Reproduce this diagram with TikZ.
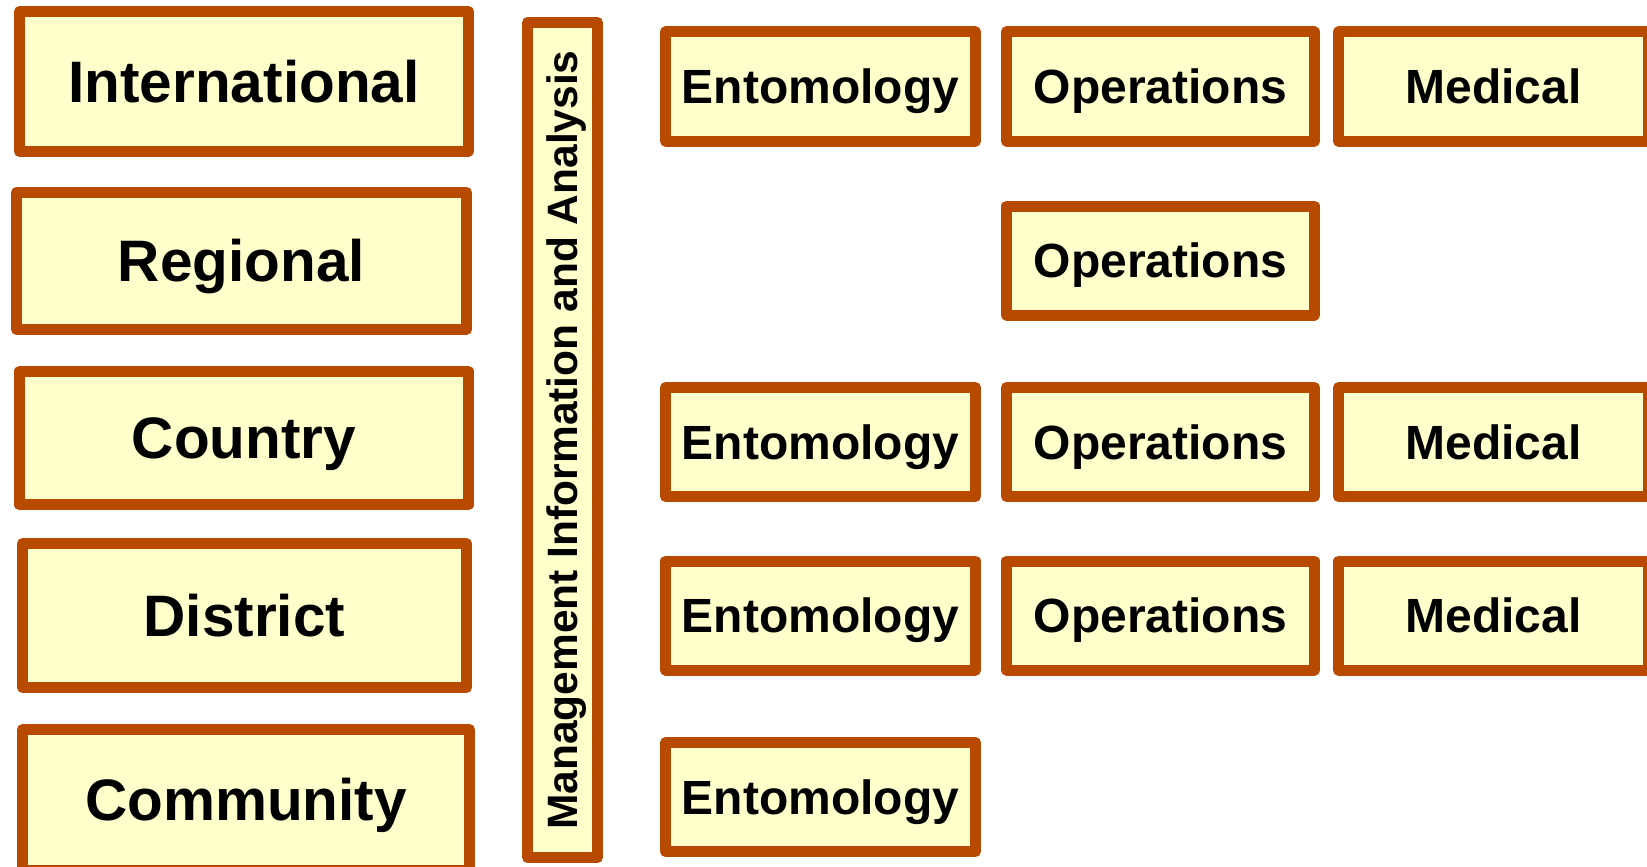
\documentclass[tikz,border=0pt]{standalone}
\usepackage{fontspec}
\setmainfont{Liberation Sans}
\definecolor{rust}{HTML}{B84A00}
\definecolor{cream}{HTML}{FFFFCC}
\begin{document}
\begin{tikzpicture}[x=1pt,y=-1pt,
  boxbase/.style={draw=rust, fill=cream, line width=11pt, line join=round, inner sep=0pt, outer sep=0pt, text=black},
  lvl/.style={boxbase, font=\fontsize{58.5}{60}\selectfont\bfseries, text height=41.9pt, text depth=0pt},
  unit/.style={boxbase, font=\fontsize{48}{50}\selectfont\bfseries, text height=34.4pt, text depth=0pt, minimum height=109pt},
  mia/.style={boxbase, font=\fontsize{42.5}{44}\selectfont\bfseries, text height=30.4pt, text depth=0pt, rotate=90}
]
\useasboundingbox (0,0) rectangle (1647,867);
\clip (0,0) rectangle (1647,867);
% level boxes
\node[lvl, minimum width=449pt, minimum height=140pt] (intl) at (244,81.5) {International};
\node[lvl, minimum width=450pt, minimum height=137pt] (reg) at (241.5,261) {Regional};
\node[lvl, minimum width=449pt, minimum height=133.5pt] (ctry) at (244,438) {Country};
\node[lvl, minimum width=444pt, minimum height=144pt] (dist) at (244.5,615.5) {District};
\node[lvl, minimum width=447pt, minimum height=141pt] (comm) at (246,800) {Community};
% vertical bar
\node[mia, minimum width=835pt, minimum height=70pt] (mia) at (562.5,440) {Management Information and Analysis};
% row 1
\node[unit, minimum width=310pt] (e1) at (820.5,86.5) {Entomology};
\node[unit, minimum width=308pt] (o1) at (1160.5,86.5) {Operations};
\node[unit, minimum width=310pt] (m1) at (1493.5,86.5) {Medical};
% row 2
\node[unit, minimum width=308pt] (o2) at (1160.5,260.5) {Operations};
% row 3
\node[unit, minimum width=310pt] (e3) at (820.5,442) {Entomology};
\node[unit, minimum width=308pt] (o3) at (1160.5,442) {Operations};
\node[unit, minimum width=310pt] (m3) at (1493.5,442) {Medical};
% row 4
\node[unit, minimum width=310pt] (e4) at (820.5,615.5) {Entomology};
\node[unit, minimum width=308pt] (o4) at (1160.5,615.5) {Operations};
\node[unit, minimum width=310pt] (m4) at (1493.5,615.5) {Medical};
% row 5
\node[unit, minimum width=310pt] (e5) at (820.5,797) {Entomology};
\end{tikzpicture}
\end{document}
